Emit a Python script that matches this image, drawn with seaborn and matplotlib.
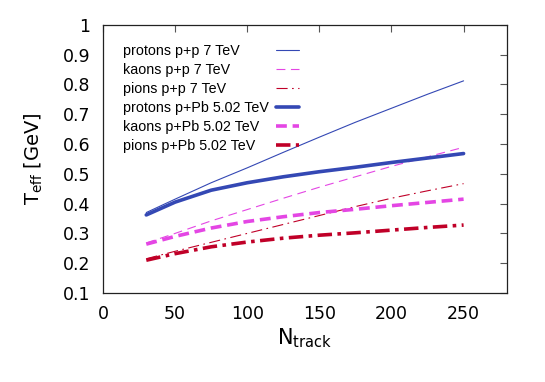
import numpy as np
import pandas as pd
import matplotlib
matplotlib.use("Agg")
import matplotlib.pyplot as plt
import seaborn as sns

# values
ntrack = [30, 50, 75, 100, 125, 150, 175, 200, 225, 250]
protons_pp = [0.370, 0.415, 0.470, 0.520, 0.572, 0.623, 0.673, 0.720, 0.767, 0.812]
kaons_pp = [0.268, 0.300, 0.342, 0.380, 0.418, 0.455, 0.490, 0.525, 0.557, 0.589]
pions_pp = [0.215, 0.240, 0.270, 0.300, 0.330, 0.360, 0.390, 0.418, 0.443, 0.467]
protons_ppb = [0.362, 0.405, 0.445, 0.470, 0.490, 0.507, 0.522, 0.538, 0.553, 0.568]
kaons_ppb = [0.264, 0.290, 0.318, 0.340, 0.356, 0.370, 0.381, 0.393, 0.404, 0.415]
pions_ppb = [0.210, 0.232, 0.255, 0.271, 0.284, 0.294, 0.302, 0.311, 0.320, 0.328]

labels = ["protons p+p 7 TeV", "kaons p+p 7 TeV", "pions p+p 7 TeV",
          "protons p+Pb 5.02 TeV", "kaons p+Pb 5.02 TeV", "pions p+Pb 5.02 TeV"]
series = [protons_pp, kaons_pp, pions_pp, protons_ppb, kaons_ppb, pions_ppb]

blue = "#3448b4"
magenta = "#e446e4"
red = "#c00028"
colors = [blue, magenta, red, blue, magenta, red]
widths = [0.8, 0.8, 0.8, 2.6, 2.6, 2.6]
dashes = ["-", (0, (8, 5)), (0, (10, 4, 1.5, 4)), "-", (0, (3, 1.6)), (0, (4, 1.5, 1, 1.5))]

sns.set_style("white")
plt.rcParams["font.family"] = ["DejaVu Sans"]
plt.rcParams["text.color"] = "black"
plt.rcParams["axes.labelcolor"] = "black"

fig = plt.figure(figsize=(5.45, 3.82), dpi=100)
ax = fig.add_axes([0.189, 0.233, 0.741, 0.702])

for lab, vals, c, w, d in zip(labels, series, colors, widths, dashes):
    df = pd.DataFrame({"N": ntrack, "T": vals})
    sns.lineplot(data=df, x="N", y="T", ax=ax, color=c, linewidth=w,
                 label=lab, linestyle=d)

ax.set_xlim(0, 280)
ax.set_ylim(0.1, 1.0)
ax.set_xticks([0, 50, 100, 150, 200, 250])
ax.set_yticks(np.arange(0.1, 1.01, 0.1))
ax.set_yticklabels(["0.1", "0.2", "0.3", "0.4", "0.5", "0.6", "0.7", "0.8", "0.9", "1"])
ax.tick_params(direction="in", length=5, width=0.8, top=True, right=True,
               labelsize=12.5, color="#555555", labelcolor="black", pad=9)
for s in ax.spines.values():
    s.set_color("#222222")
    s.set_linewidth(0.9)

ax.set_xlabel(r"N$_{\mathrm{track}}$", fontsize=15, labelpad=2)
ax.set_ylabel(r"T$_{\mathrm{eff}}$ [GeV]", fontsize=14, labelpad=13)

# gnuplot style key: text left aligned, sample line on the right
leg = ax.legend(loc="upper left", frameon=False, markerfirst=False,
                prop={"family": "Liberation Sans", "size": 10.3},
                handlelength=1.65, labelspacing=0.35, borderaxespad=0, borderpad=0,
                bbox_to_anchor=(0.049, 0.927), handletextpad=0.5)
for t in leg.get_texts():
    t.set_color("black")
for col in leg._legend_handle_box.get_children():
    col.align = "left"
    col.width = 176.5
    for row in col.get_children():
        row.mode = "expand"

fig.savefig("out.png", dpi=100)
